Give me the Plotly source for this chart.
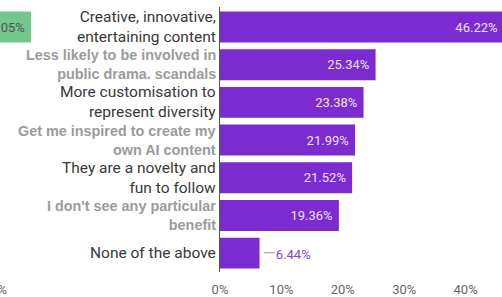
import plotly.graph_objects as go

categories = [
    "Creative, innovative,<br>entertaining content",
    "Less likely to be involved in<br>public drama. scandals",
    "More customisation to<br>represent diversity",
    "Get me inspired to create my<br>own AI content",
    "They are a novelty and<br>fun to follow",
    "I don't see any particular<br>benefit",
    "None of the above",
]
values = [46.22, 25.34, 23.38, 21.99, 21.52, 19.36, 6.44]
label_gray = [False, True, False, True, False, True, False]

left_category = [categories[0]]
left_values = [55.05]

x_ticks = [0, 10, 20, 30, 40]
x_tick_labels = ["0%", "10%", "20%", "30%", "40%"]
left_ticks = [50]
left_tick_labels = ["50%"]

PURPLE = "#7c2bd0"
GREEN = "#72c68e"
DARK_FONT = dict(family="Roboto", size=15.5, color="#383838")
GRAY_FONT = dict(family="Liberation Sans", size=14.4, color="#9b9b9b")

texts = []
positions = []
for v in values:
    if v < 10:
        texts.append('<span style="color:#aaaaaa;font-size:17px">—</span>%.2f%%' % v)
        positions.append("outside")
    else:
        texts.append("%.2f%%\u00a0" % v)
        positions.append("inside")

fig = go.Figure()
fig.add_trace(go.Bar(
    y=categories, x=values, orientation="h",
    marker=dict(color=PURPLE, line=dict(width=0)),
    text=texts, textposition=positions, insidetextanchor="end",
    constraintext="none", cliponaxis=True,
    insidetextfont=dict(color="#ece2f8", size=13, family="Roboto"),
    outsidetextfont=dict(color="#8a45d6", size=13, family="Roboto"),
    xaxis="x", yaxis="y", hoverinfo="skip",
))
fig.add_trace(go.Bar(
    y=left_category, x=left_values, orientation="h",
    marker=dict(color=GREEN, line=dict(width=0)),
    text=["%.2f%%\u00a0" % v for v in left_values], textposition="inside",
    insidetextanchor="end", constraintext="none",
    insidetextfont=dict(color="#555555", size=13, family="Roboto"),
    xaxis="x2", yaxis="y2", hoverinfo="skip",
))

annotations = []
for c, g in zip(categories, label_gray):
    txt = "<b>" + c.replace("<br>", "</b><br><b>") + "</b>" if g else c
    annotations.append(dict(
        x=0, y=c, xref="x", yref="y", text=txt, showarrow=False,
        xanchor="right", yanchor="middle", align="right", xshift=-3,
        font=GRAY_FONT if g else DARK_FONT, borderpad=0,
    ))

fig.update_layout(
    width=502, height=297,
    margin=dict(l=0, r=0, t=7, b=25, autoexpand=False),
    paper_bgcolor="white", plot_bgcolor="white",
    showlegend=False, bargap=0.18,
    font=dict(family="Roboto", size=14, color="#333333"),
    annotations=annotations,
    xaxis=dict(
        domain=[220 / 502, 1], range=[0, 45.93],
        tickvals=x_ticks, ticktext=x_tick_labels, showgrid=False, zeroline=False,
        showline=False, ticks="", tickfont=dict(size=13, color="#666666"),
        anchor="y", automargin=False, ticklabelstandoff=8,
    ),
    yaxis=dict(
        categoryorder="array", categoryarray=categories, autorange="reversed",
        showticklabels=False,
        showline=True, linecolor="#555555", linewidth=1, ticks="",
        showgrid=False, anchor="x", automargin=False,
    ),
    xaxis2=dict(
        domain=[0, 0.08], range=[50, 50 + 0.08 * 502 / 6.14],
        tickvals=left_ticks, ticktext=left_tick_labels, ticklabelshift=-5,
        ticklabeloverflow="allow", ticklabelstandoff=8,
        showgrid=False, zeroline=False, showline=False, ticks="",
        tickfont=dict(size=13, color="#666666"), anchor="y2", automargin=False,
    ),
    yaxis2=dict(
        matches="y", anchor="x2", showticklabels=False, showline=False,
        showgrid=False, ticks="", automargin=False,
    ),
)

fig.write_html(
    "out.html",
    config={"displayModeBar": False},
    post_script="document.body.style.margin='0';document.body.style.padding='0';",
)
